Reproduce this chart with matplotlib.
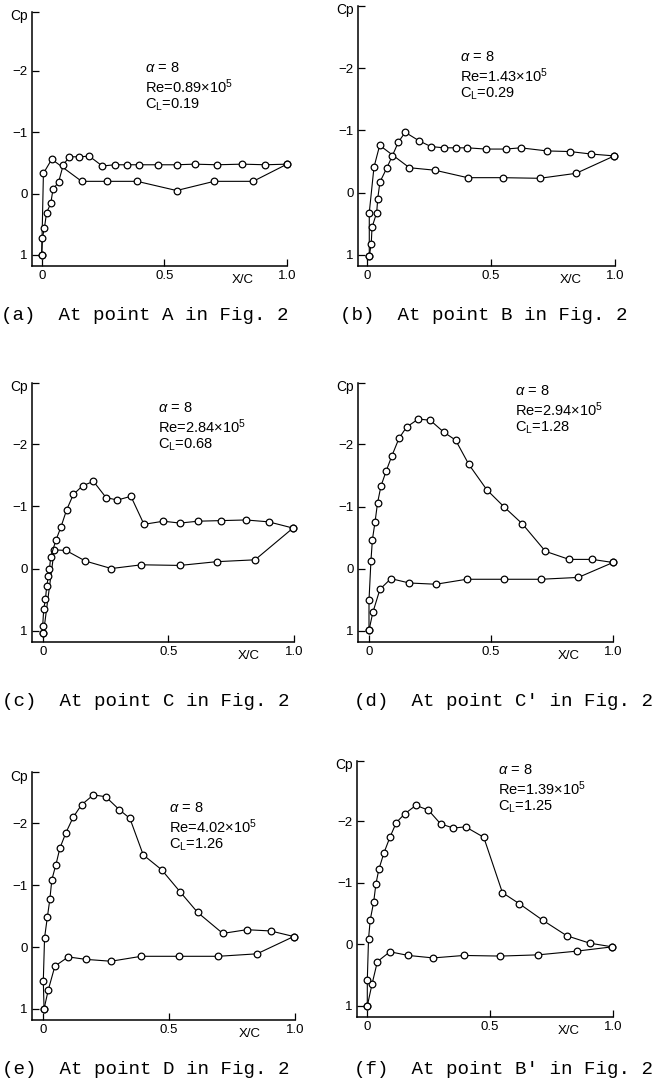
import matplotlib
matplotlib.use("Agg")
import matplotlib.pyplot as plt

# ---- data (x/c, Cp) ----
a_upper_x = [0.0, 0.003, 0.011, 0.02, 0.037, 0.046, 0.069, 0.088, 0.113, 0.151, 0.194,
             0.247, 0.298, 0.346, 0.398, 0.475, 0.552, 0.623, 0.715, 0.818, 0.912, 1.0]
a_upper_cp = [1.0, 0.72, 0.56, 0.31, 0.16, -0.07, -0.19, -0.47, -0.6, -0.6, -0.61,
              -0.45, -0.47, -0.47, -0.47, -0.47, -0.47, -0.48, -0.47, -0.48, -0.47, -0.48]
a_lower_x = [0.0, 0.007, 0.041, 0.163, 0.267, 0.389, 0.55, 0.703, 0.862, 1.0]
a_lower_cp = [1.0, -0.33, -0.56, -0.2, -0.2, -0.2, -0.05, -0.2, -0.2, -0.48]

b_upper_x = [0.008, 0.016, 0.019, 0.038, 0.042, 0.051, 0.078, 0.101, 0.125, 0.153, 0.21,
             0.257, 0.31, 0.358, 0.404, 0.478, 0.559, 0.619, 0.725, 0.818, 0.904, 0.997]
b_upper_cp = [1.02, 0.82, 0.56, 0.32, 0.1, -0.17, -0.39, -0.59, -0.81, -0.97, -0.83,
              -0.74, -0.72, -0.72, -0.72, -0.7, -0.7, -0.72, -0.67, -0.66, -0.62, -0.59]
b_lower_x = [0.008, 0.008, 0.027, 0.05, 0.17, 0.273, 0.405, 0.546, 0.696, 0.843, 0.997]
b_lower_cp = [1.02, 0.32, -0.41, -0.76, -0.4, -0.36, -0.24, -0.24, -0.23, -0.31, -0.59]

c_upper_x = [0.003, 0.0, 0.004, 0.011, 0.016, 0.023, 0.027, 0.032, 0.053, 0.072, 0.095,
             0.122, 0.159, 0.202, 0.252, 0.297, 0.351, 0.403, 0.48, 0.546, 0.617, 0.711,
             0.809, 0.899, 0.996]
c_upper_cp = [1.04, 0.92, 0.65, 0.49, 0.28, 0.12, 0.0, -0.19, -0.46, -0.66, -0.94,
              -1.19, -1.33, -1.4, -1.14, -1.1, -1.16, -0.71, -0.76, -0.73, -0.76, -0.77,
              -0.78, -0.75, -0.65]
c_lower_x = [0.003, 0.046, 0.093, 0.17, 0.273, 0.393, 0.546, 0.692, 0.845, 0.996]
c_lower_cp = [1.04, -0.3, -0.29, -0.12, 0.0, -0.06, -0.05, -0.11, -0.14, -0.65]

d_upper_x = [0.0, 0.0, 0.008, 0.014, 0.025, 0.035, 0.049, 0.071, 0.094, 0.123, 0.154,
             0.202, 0.251, 0.306, 0.355, 0.409, 0.483, 0.555, 0.629, 0.723, 0.82, 0.915, 1.0]
d_upper_cp = [0.99, 0.51, -0.13, -0.47, -0.76, -1.06, -1.33, -1.58, -1.82, -2.1, -2.28,
              -2.41, -2.39, -2.2, -2.07, -1.68, -1.27, -0.99, -0.72, -0.28, -0.15, -0.15, -0.1]
d_lower_x = [0.0, 0.016, 0.045, 0.09, 0.165, 0.274, 0.4, 0.553, 0.704, 0.858, 1.0]
d_lower_cp = [0.99, 0.7, 0.33, 0.16, 0.23, 0.25, 0.17, 0.17, 0.17, 0.14, -0.1]

e_upper_x = [0.003, 0.0, 0.005, 0.016, 0.026, 0.034, 0.05, 0.066, 0.09, 0.119, 0.152,
             0.199, 0.248, 0.302, 0.344, 0.397, 0.47, 0.544, 0.613, 0.713, 0.808, 0.903, 0.995]
e_upper_cp = [1.0, 0.55, -0.15, -0.48, -0.77, -1.09, -1.33, -1.6, -1.85, -2.1, -2.3,
              -2.46, -2.43, -2.22, -2.08, -1.49, -1.25, -0.89, -0.56, -0.22, -0.28, -0.26, -0.17]
e_lower_x = [0.003, 0.02, 0.046, 0.099, 0.17, 0.269, 0.389, 0.54, 0.695, 0.849, 0.995]
e_lower_cp = [1.0, 0.69, 0.31, 0.16, 0.2, 0.23, 0.15, 0.15, 0.15, 0.11, -0.17]

f_upper_x = [0.0, 0.0, 0.005, 0.012, 0.026, 0.035, 0.047, 0.068, 0.092, 0.118, 0.152,
             0.198, 0.249, 0.298, 0.35, 0.4, 0.474, 0.55, 0.619, 0.715, 0.812, 0.905, 0.997]
f_upper_cp = [1.0, 0.58, -0.09, -0.4, -0.69, -0.98, -1.22, -1.49, -1.74, -1.98, -2.12,
              -2.26, -2.18, -1.96, -1.89, -1.91, -1.74, -0.84, -0.66, -0.39, -0.14, -0.02, 0.04]
f_lower_x = [0.0, 0.019, 0.041, 0.092, 0.167, 0.268, 0.393, 0.542, 0.696, 0.852, 0.997]
f_lower_cp = [1.0, 0.65, 0.28, 0.12, 0.18, 0.22, 0.18, 0.19, 0.17, 0.11, 0.04]

reynolds = ["0.89", "1.43", "2.84", "2.94", "4.02", "1.39"]
lift = ["0.19", "0.29", "0.68", "1.28", "1.26", "1.25"]
captions = ["(a)  At point A in Fig. 2", "(b)  At point B in Fig. 2",
            "(c)  At point C in Fig. 2", "(d)  At point C' in Fig. 2",
            "(e)  At point D in Fig. 2", "(f)  At point B' in Fig. 2"]

curves = [
    (a_upper_x, a_upper_cp, a_lower_x, a_lower_cp),
    (b_upper_x, b_upper_cp, b_lower_x, b_lower_cp),
    (c_upper_x, c_upper_cp, c_lower_x, c_lower_cp),
    (d_upper_x, d_upper_cp, d_lower_x, d_lower_cp),
    (e_upper_x, e_upper_cp, e_lower_x, e_lower_cp),
    (f_upper_x, f_upper_cp, f_lower_x, f_lower_cp),
]

plt.rcParams["font.family"] = ["Liberation Sans", "DejaVu Sans"]
plt.rcParams["mathtext.fontset"] = "custom"
plt.rcParams["mathtext.rm"] = "Liberation Sans"
plt.rcParams["mathtext.it"] = "Liberation Sans:italic"

W, H = 665, 1088
fig = plt.figure(figsize=(W / 100, H / 100), dpi=100)

# frame in pixels: left spine, x=0, x=1, top, bottom, Cp at top
frames = [
    (32, 41.7, 287, 12, 266, -2.96),
    (358, 367.3, 615, 6, 266, -3.0),
    (32, 42.7, 294, 383, 642, -2.98),
    (358, 369, 613, 383, 642, -2.99),
    (32, 43.3, 295, 772, 1020, -2.83),
    (357, 367.3, 613, 761, 1017, -2.98),
]
# where the alpha / Re / CL block starts (data coords)
text_pos = [(0.42, -2.05), (0.374, -2.18), (0.46, -2.58),
            (0.60, -2.86), (0.50, -2.25), (0.53, -2.83)]
caption_pos = [(1, 315), (340, 315), (2, 702), (354, 702), (2, 1070), (354, 1070)]

for i, (ux, ucp, lx, lcp) in enumerate(curves):
    left, x0, x1, top, bottom, ytop = frames[i]
    ax = fig.add_axes([left / W, 1 - bottom / H, (x1 - left) / W, (bottom - top) / H])
    ax.set_xlim((left - x0) / (x1 - x0), 1.0)
    ax.set_ylim(1.18, ytop)

    for xs, cs in ((lx, lcp), (ux, ucp)):
        ax.plot(xs, cs, "-", color="black", lw=0.8, marker="o", ms=4.8,
                mfc="white", mec="black", mew=0.9, clip_on=False)

    for side in ("top", "right"):
        ax.spines[side].set_visible(False)
    for side in ("left", "bottom"):
        ax.spines[side].set_linewidth(1.1)

    ax.set_xticks([0, 0.5, 1.0])
    ax.set_xticklabels(["0", "0.5", "1.0"])
    ax.set_yticks([-2, -1, 0, 1])
    ax.set_yticklabels(["\u22122", "\u22121", "0", "1"])
    ax.set_yticks([ytop], minor=True)
    ax.tick_params(which="both", direction="in", length=5, width=0.9,
                   labelsize=9.5, pad=3)

    ax.text(-0.015, 1.01, "Cp", transform=ax.transAxes, ha="right", va="top",
            fontsize=10)
    ax.annotate("X/C", xy=(0.82, 0), xycoords=("data", "axes fraction"),
                xytext=(0, -8), textcoords="offset pixels", ha="center", va="top",
                fontsize=9.5)

    lines = [r"$\alpha$ = 8", "Re=" + reynolds[i] + "\u00d710$^{5}$",
             "C$_{\\mathrm{L}}$=" + lift[i]]
    tx, ty = text_pos[i]
    for k, s in enumerate(lines):
        ax.annotate(s, xy=(tx, ty), xycoords="data", xytext=(0, -18.5 * k),
                    textcoords="offset pixels", ha="left", va="center", fontsize=10.5)

    cx, cy = caption_pos[i]
    fig.text(cx / W, 1 - cy / H, captions[i], family=["Liberation Mono", "DejaVu Sans Mono"],
             fontsize=13.8, ha="left", va="center")

fig.savefig("out.png", dpi=100)
